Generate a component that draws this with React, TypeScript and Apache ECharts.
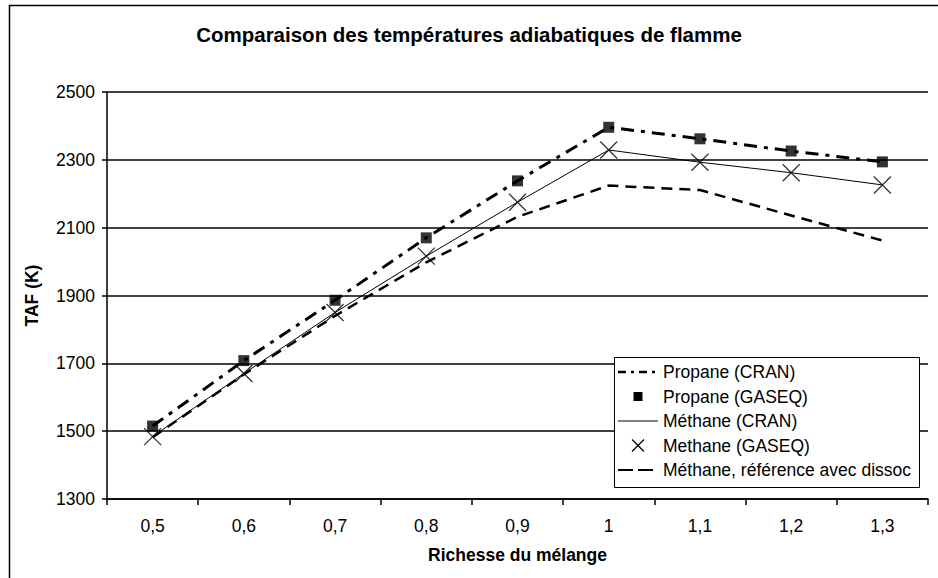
import React, { useEffect, useRef } from "react";
import * as echarts from "echarts";

const categories = ["0,5", "0,6", "0,7", "0,8", "0,9", "1", "1,1", "1,2", "1,3"];
const propaneCran = [1515, 1708, 1886, 2070, 2238, 2396, 2362, 2326, 2294];
const propaneGaseq = [1515, 1708, 1886, 2070, 2238, 2396, 2362, 2326, 2294];
const methaneCran = [1484, 1670, 1850, 2016, 2175, 2329, 2293, 2262, 2226];
const methaneGaseq = [1484, 1670, 1850, 2016, 2175, 2329, 2293, 2262, 2226];
const methaneRef = [1482, 1667, 1840, 1998, 2132, 2224, 2211, 2136, 2062];

const seriesNames = [
  "Propane (CRAN)",
  "Propane (GASEQ)",
  "Méthane (CRAN)",
  "Methane (GASEQ)",
  "Méthane, référence avec dissoc",
];

const FONT = "Arial, 'Liberation Sans', Helvetica, sans-serif";
const X_PATH = "path://M0,0L10,10M10,0L0,10";

function buildLegend() {
  const boxX = 614;
  const boxY = 357;
  const boxW = 305;
  const boxH = 130;
  const rowY0 = 372;
  const rowStep = 24.5;
  const iconX0 = 618;
  const iconX1 = 658;
  const iconMid = 638;
  const textX = 663;
  const els: any[] = [
    {
      type: "rect",
      shape: { x: boxX + 0.5, y: boxY + 0.5, width: boxW, height: boxH },
      style: { fill: "#fff", stroke: "#000", lineWidth: 1 },
      silent: true,
      z: 10,
    },
  ];
  const ys = seriesNames.map((_, i) => rowY0 + i * rowStep);
  // icons
  els.push({
    type: "line",
    shape: { x1: iconX0, y1: ys[0], x2: iconX1, y2: ys[0] },
    style: { stroke: "#000", lineWidth: 2.5, lineDash: [8, 5, 3, 5] },
    silent: true,
    z: 11,
  });
  els.push({
    type: "rect",
    shape: { x: iconMid - 4.5, y: ys[1] - 4.5, width: 9, height: 9 },
    style: { fill: "#000" },
    silent: true,
    z: 11,
  });
  els.push({
    type: "line",
    shape: { x1: iconX0, y1: ys[2], x2: iconX1, y2: ys[2] },
    style: { stroke: "#000", lineWidth: 1 },
    silent: true,
    z: 11,
  });
  els.push({
    type: "line",
    shape: { x1: iconMid - 6, y1: ys[3] - 6, x2: iconMid + 6, y2: ys[3] + 6 },
    style: { stroke: "#000", lineWidth: 1.2 },
    silent: true,
    z: 11,
  });
  els.push({
    type: "line",
    shape: { x1: iconMid + 6, y1: ys[3] - 6, x2: iconMid - 6, y2: ys[3] + 6 },
    style: { stroke: "#000", lineWidth: 1.2 },
    silent: true,
    z: 11,
  });
  els.push({
    type: "line",
    shape: { x1: iconX0, y1: ys[4], x2: iconX1 - 5, y2: ys[4] },
    style: { stroke: "#000", lineWidth: 2, lineDash: [15, 5] },
    silent: true,
    z: 11,
  });
  seriesNames.forEach((name, i) => {
    els.push({
      type: "text",
      x: textX,
      y: ys[i],
      style: {
        text: name,
        fontFamily: FONT,
        fontSize: 17.5,
        fill: "#000",
        textAlign: "left",
        textVerticalAlign: "middle",
      },
      silent: true,
      z: 11,
    });
  });
  return els;
}

export default function App() {
  const ref = useRef<HTMLDivElement>(null);
  useEffect(() => {
    if (!ref.current) return;
    const chart = echarts.init(ref.current, null, { renderer: "svg" });
    chart.setOption({
      animation: false,
      backgroundColor: "#fff",
      textStyle: { fontFamily: FONT, color: "#000" },
      title: {
        text: "Comparaison des températures adiabatiques de flamme",
        left: "center",
        top: 19,
        textStyle: { fontFamily: FONT, fontSize: 20.5, fontWeight: "bold", color: "#000" },
      },
      graphic: [
        {
          type: "rect",
          shape: { x: 9.5, y: 5.5, width: 1000, height: 1000 },
          style: { fill: "none", stroke: "#000", lineWidth: 1.5 },
          silent: true,
          z: -1,
        },
        ...buildLegend(),
      ],
      grid: { left: 107, right: 10, top: 92, bottom: 79, containLabel: false },
      xAxis: {
        type: "category",
        data: categories,
        boundaryGap: true,
        name: "Richesse du mélange",
        nameLocation: "middle",
        nameGap: 47,
        nameTextStyle: { fontFamily: FONT, fontSize: 17.5, fontWeight: "bold", color: "#000" },
        axisLine: { lineStyle: { color: "#000", width: 1.5 } },
        axisTick: { show: true, length: 6, lineStyle: { color: "#000", width: 1.5 } },
        axisLabel: { fontFamily: FONT, fontSize: 17.5, color: "#000", margin: 18 },
        splitLine: { show: false },
      },
      yAxis: {
        type: "value",
        min: 1300,
        max: 2500,
        interval: 200,
        name: "TAF (K)",
        nameLocation: "middle",
        nameGap: 66,
        nameTextStyle: { fontFamily: FONT, fontSize: 17.5, fontWeight: "bold", color: "#000" },
        axisLine: { show: true, lineStyle: { color: "#000", width: 1.5 } },
        axisTick: { show: true, length: 5, lineStyle: { color: "#000", width: 1.5 } },
        axisLabel: {
          fontFamily: FONT,
          fontSize: 17.5,
          color: "#000",
          margin: 12,
          formatter: (v: number) => String(v),
        },
        splitLine: { show: true, lineStyle: { color: "#000", width: 1.5 } },
      },
      series: [
        {
          name: seriesNames[0],
          type: "line",
          data: propaneCran,
          symbol: "none",
          lineStyle: { color: "#000", width: 3, type: [13, 7, 4, 7] },
          itemStyle: { color: "#000" },
          z: 3,
        },
        {
          name: seriesNames[1],
          type: "scatter",
          data: propaneGaseq,
          symbol: "rect",
          symbolSize: 11,
          itemStyle: { color: "#000" },
          z: 4,
        },
        {
          name: seriesNames[2],
          type: "line",
          data: methaneCran,
          symbol: "none",
          lineStyle: { color: "#000", width: 1, type: "solid" },
          itemStyle: { color: "#000" },
          z: 3,
        },
        {
          name: seriesNames[3],
          type: "scatter",
          data: methaneGaseq,
          symbol: X_PATH,
          symbolSize: 17,
          itemStyle: { color: "none", borderColor: "#000", borderWidth: 1.3 },
          z: 4,
        },
        {
          name: seriesNames[4],
          type: "line",
          data: methaneRef,
          symbol: "none",
          lineStyle: { color: "#000", width: 2.5, type: [11, 7] },
          itemStyle: { color: "#000" },
          z: 3,
        },
      ],
    });
    return () => chart.dispose();
  }, []);
  return (
    <div
      ref={ref}
      style={{ position: "fixed", left: 0, top: 0, width: 938, height: 578 }}
    />
  );
}
